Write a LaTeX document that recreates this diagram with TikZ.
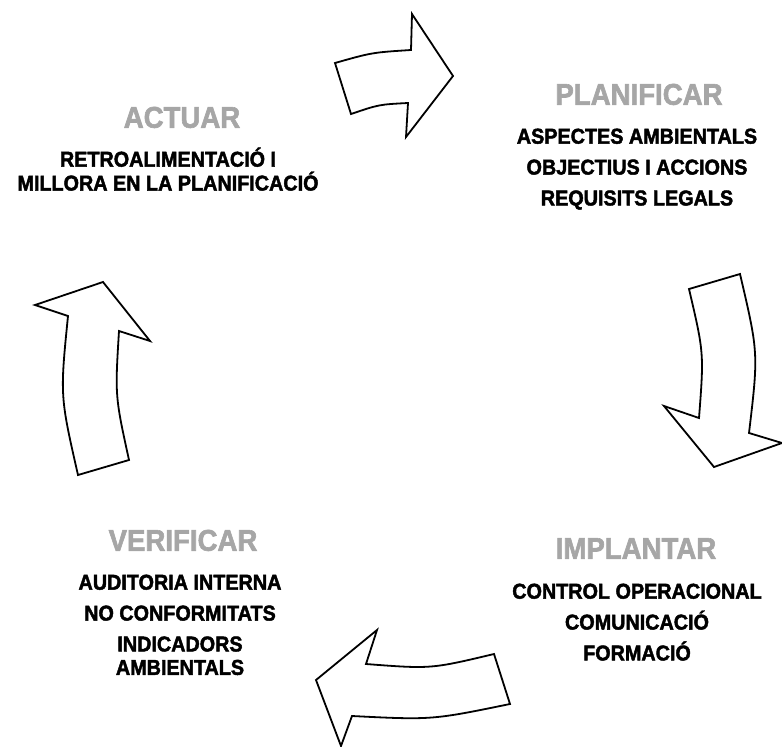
\documentclass[tikz,border=0pt]{standalone}
\usepackage{fontspec}
\setmainfont{Liberation Sans}
\newfontfamily\cyclefont[FakeStretch=0.92, FakeBold=2]{Liberation Sans}
\usetikzlibrary{positioning}
\definecolor{phasegray}{RGB}{166,166,166}
\tikzset{
x=1pt, y=-1pt, % one unit is one pixel, y runs down the page
node distance=15pt, % gap between two lines of one block
phase/.style={font=\cyclefont\fontsize{30}{30}\selectfont\bfseries, text=phasegray, inner sep=0pt, text height=21.5pt, text depth=0pt}, % the grey step names
task/.style={font=\cyclefont\fontsize{21.5}{21.5}\selectfont\bfseries, text=black, inner sep=0pt, text height=15.5pt, text depth=0pt}, % the black lines under them
cyclearrow/.style={draw=black, line width=1.8pt, fill=white, line join=miter}, % the four block arrows
}

\begin{document}
\begin{tikzpicture}
      \useasboundingbox (0,0) rectangle (782,747);

      % block arrows round the cycle
      \draw[cyclearrow] (335,63) .. controls (372,52.5) .. (411,50) -- (412,14) -- (453,76) -- (406,137)
        -- (408,103) .. controls (379,104.5) .. (351,114) -- cycle;
      \draw[cyclearrow] (689,289) -- (740,274) .. controls (758.5,353) .. (749,433) -- (782,443) -- (714,467)
        -- (664,406) -- (699,418) .. controls (704,353) .. cycle;
      \draw[cyclearrow] (494,654) -- (510,704) .. controls (432,720) .. (352,716) -- (341,746) -- (316,680)
        -- (377,630) -- (366,664) .. controls (431,669) .. cycle;
      \draw[cyclearrow] (78,475) -- (129,460) .. controls (115,396) .. (119,331) -- (150,341) -- (103,282)
        -- (35,305) -- (68,316) .. controls (60,396) .. cycle;

      % planificar
      \node[phase] (plan) at (639,94) {PLANIFICAR};
      \node[task, below=23pt of plan, xshift=-2pt] (plan1) {ASPECTES AMBIENTALS};
      \node[task, below=of plan1] (plan2) {OBJECTIUS I ACCIONS};
      \node[task, below=of plan2] (plan3) {REQUISITS LEGALS};

      % implantar
      \node[phase] (impl) at (636,548) {IMPLANTAR};
      \node[task, below=24pt of impl, xshift=1pt] (impl1) {CONTROL OPERACIONAL};
      \node[task, below=of impl1] (impl2) {COMUNICACIÓ};
      \node[task, below=of impl2] (impl3) {FORMACIÓ};

      % verificar
      \node[phase] (veri) at (183,540) {VERIFICAR};
      \node[task, below=23pt of veri, xshift=-3pt] (veri1) {AUDITORIA INTERNA};
      \node[task, below=of veri1] (veri2) {NO CONFORMITATS};
      \node[task, below=of veri2] (veri3) {INDICADORS};
      \node[task, below=7.5pt of veri3] (veri4) {AMBIENTALS};

      % actuar
      \node[phase] (actu) at (182,117) {ACTUAR};
      \node[task, below=23pt of actu, xshift=-14pt] (actu1) {RETROALIMENTACIÓ I};
      \node[task, below=8pt of actu1] (actu2) {MILLORA EN LA PLANIFICACIÓ};
\end{tikzpicture}
\end{document}
